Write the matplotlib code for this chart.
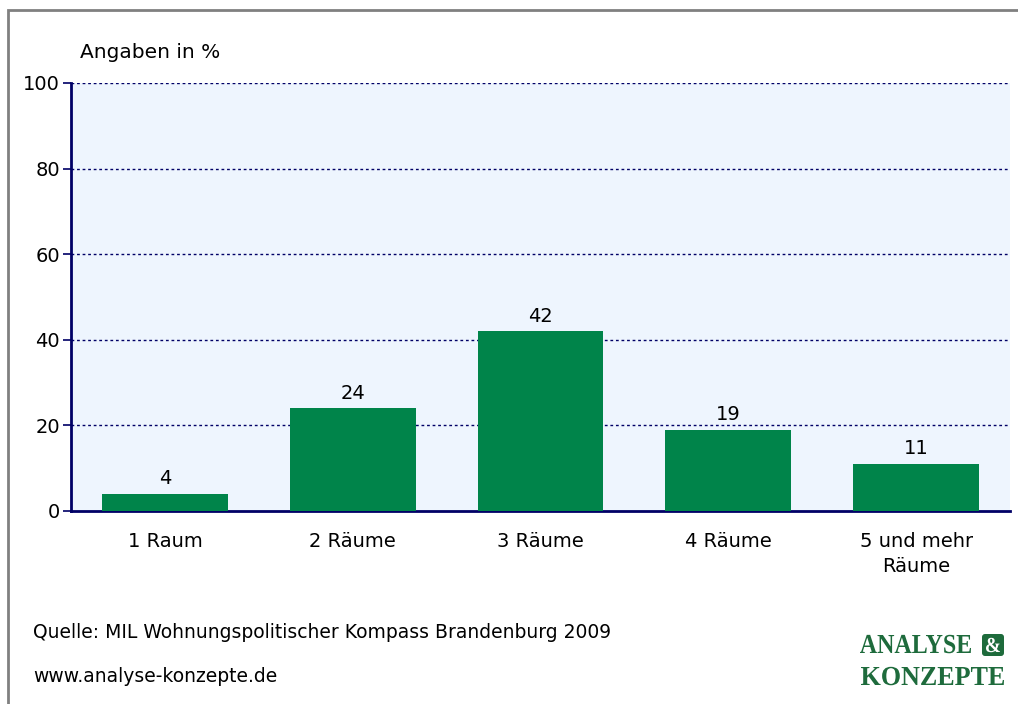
import matplotlib
matplotlib.use("Agg")
import matplotlib.pyplot as plt
from matplotlib.patches import Rectangle, FancyBboxPatch, PathPatch
from matplotlib.textpath import TextPath
from matplotlib.font_manager import FontProperties
from matplotlib.transforms import Affine2D, IdentityTransform

categories = ["1 Raum", "2 Räume", "3 Räume", "4 Räume", "5 und mehr\nRäume"]
values = [4, 24, 42, 19, 11]
yticks = [0, 20, 40, 60, 80, 100]

plt.rcParams['font.family'] = ['DejaVu Sans']

W, H = 1018, 704
fig = plt.figure(figsize=(W / 100, H / 100), dpi=100)
fig.patch.set_facecolor('white')

# outer frame
fig.patches.append(Rectangle((8 / W, -0.05), 1.2, 1 - 10 / H + 0.05, transform=fig.transFigure,
                             fill=False, edgecolor='#808080', linewidth=2, zorder=0))

ax = fig.add_axes([71 / W, 1 - 511 / H, 939 / W, 428 / H])
ax.set_facecolor('#EEF5FE')
x = range(len(categories))
ax.bar(x, values, width=0.67, color='#00844A', zorder=3)
for xi, v in zip(x, values):
    ax.text(xi, v + 1.3, str(v), ha='center', va='bottom', fontsize=14, color='black')

ax.set_xlim(-0.5, len(categories) - 0.5)
ax.set_ylim(0, 100)
ax.set_yticks(yticks)
ax.set_yticklabels([str(t) for t in yticks], fontsize=14)
ax.set_xticks(list(x))
ax.set_xticklabels(categories, fontsize=14, va='top', linespacing=1.4)
ax.tick_params(axis='x', length=0, pad=15)
ax.tick_params(axis='y', length=6, width=1.2, color='#000066', pad=2)
for t in yticks[1:]:
    ax.axhline(t, color='#000066', linestyle=(0, (2, 2)), linewidth=1, zorder=1)
for s in ['top', 'right']:
    ax.spines[s].set_visible(False)
ax.spines['left'].set_color('#000066')
ax.spines['bottom'].set_color('#000066')
ax.spines['left'].set_linewidth(2)
ax.spines['bottom'].set_linewidth(2)

fig.text(80 / W, 1 - 53 / H, "Angaben in %", fontsize=14.5, va='center', ha='left')
fig.text(33 / W, 1 - 632 / H, "Quelle: MIL Wohnungspolitischer Kompass Brandenburg 2009",
         fontsize=13.5, va='center', ha='left')
fig.text(33 / W, 1 - 677 / H, "www.analyse-konzepte.de", fontsize=13.5, va='center', ha='left')

# logo, text fitted into pixel boxes
logo_color = '#1E6B3C'
serif = FontProperties(family='Liberation Serif', weight='bold')


def fit_text(s, x0, x1, y_top, y_base, color):
    tp = TextPath((0, 0), s, size=100, prop=serif)
    ext = tp.get_extents()
    cap = TextPath((0, 0), "H", size=100, prop=serif).get_extents().height
    sx = (x1 - x0) / ext.width
    sy = (y_base - y_top) / cap
    tr = Affine2D().translate(-ext.x0, 0).scale(sx, sy).translate(x0, H - y_base)
    path = tr.transform_path(tp)
    fig.patches.append(PathPatch(path, facecolor=color, edgecolor='none',
                                 transform=IdentityTransform(), figure=fig))


fit_text("ANALYSE", 860, 971, 635, 653, logo_color)
fit_text("KONZEPTE", 861, 1004, 667, 685, logo_color)
fig.patches.append(FancyBboxPatch((982, H - 656), 22, 22, boxstyle='round,pad=0,rounding_size=3',
                                  facecolor=logo_color, edgecolor='none',
                                  transform=IdentityTransform(), figure=fig))
fit_text("&", 986, 1000, 638, 652, 'white')

fig.savefig("out.png", dpi=100)
